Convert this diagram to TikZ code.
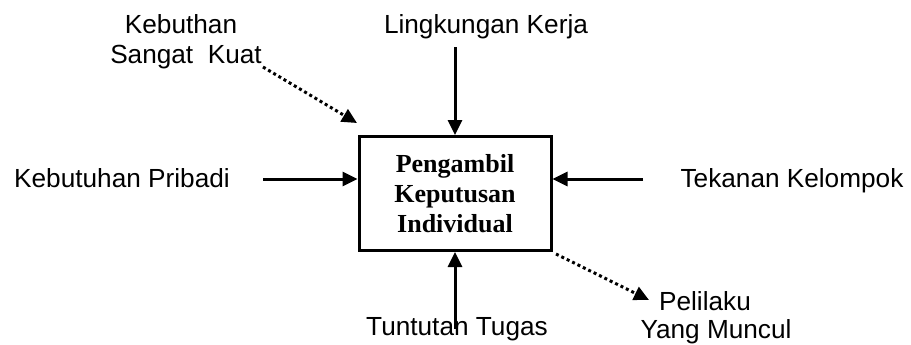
\documentclass[tikz,border=0pt]{standalone}
\usepackage{fontspec}
\setmainfont{Liberation Sans}
\newfontfamily\boxfont{Liberation Serif}
\usetikzlibrary{arrows.meta}
\tikzset{
  lbl/.style={font=\fontsize{13.1pt}{15pt}\selectfont, inner sep=0pt, anchor=base},
  mainbox/.style={draw, line width=1.5pt, minimum width=96pt, minimum height=57pt, inner sep=0pt, align=center,
     font=\boxfont\bfseries\fontsize{13pt}{15pt}\selectfont},
  solidarrow/.style={line width=1.5pt, -{Triangle[length=7.5pt,width=7pt]}},
  dotarrow/.style={line width=1.5pt, dash pattern=on 1.5pt off 1.5pt, -{Triangle[length=7.5pt,width=7pt]}}
}
\begin{document}
\begin{tikzpicture}[x=0.5pt,y=-0.5pt]
\useasboundingbox (0,0) rectangle (911,344);
\node[mainbox] (box) at (455,193.5) {Pengambil\\Keputusan\\Individual};

\node[lbl] (lk) at (486,33) {Lingkungan Kerja};
\node[lbl] (kp) at (122,187) {Kebutuhan Pribadi};
\node[lbl] (tk) at (792,187) {Tekanan Kelompok};
\node[lbl] (tt) at (457,335) {Tuntutan Tugas};
\node[lbl] (kb1) at (181,33) {Kebuthan};
\node[lbl] (kb2) at (186,63) {Sangat\ \ Kuat};
\node[lbl] (pl1) at (705,310) {Pelilaku};
\node[lbl] (pl2) at (716,338) {Yang Muncul};

\coordinate (ctop) at (455,47);
\coordinate (cleft) at (263,179);
\coordinate (cright) at (643,179);
\coordinate (cbot) at (455,329);
\coordinate (cdot1) at (263,67);
\coordinate (cdot1e) at (357,123);
\coordinate (cdot2) at (556,254);
\coordinate (cdot2e) at (649,300);

\draw[solidarrow] (ctop) -- (box.north);
\draw[solidarrow] (cleft) -- (cleft -| box.west);
\draw[solidarrow] (cright) -- (cright -| box.east);
\draw[solidarrow] (cbot) -- (box.south);
\draw[dotarrow] (cdot1) -- (cdot1e);
\draw[dotarrow] (cdot2) -- (cdot2e);
\end{tikzpicture}
\end{document}
